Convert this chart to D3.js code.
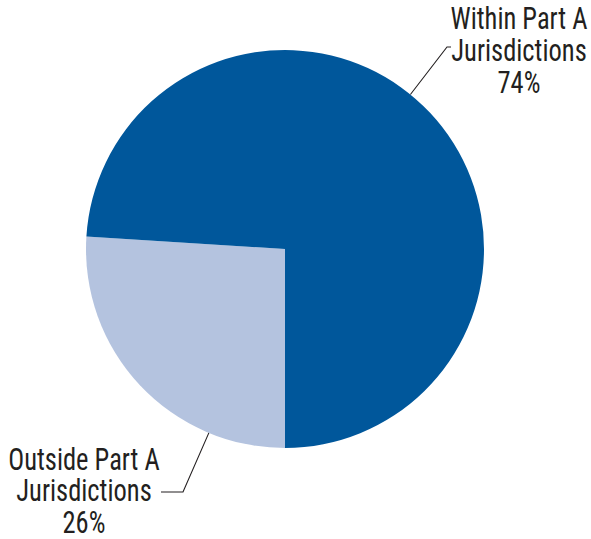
<!DOCTYPE html>
<html>
<head>
<meta charset="utf-8">
<script src="https://cdn.jsdelivr.net/npm/d3@7/dist/d3.min.js"></script>
<style>
  html, body { margin: 0; padding: 0; background: #fff; }
  svg text { font-family: "Roboto Condensed", "Liberation Sans Narrow", "Liberation Sans", sans-serif; fill: #231f20; }
</style>
</head>
<body>
<svg id="chart" width="591" height="539"></svg>
<script>
// Share of total by jurisdiction group
const categories = ["Outside Part A Jurisdictions", "Within Part A Jurisdictions"];
const labelLines = [["Outside Part A", "Jurisdictions"], ["Within Part A", "Jurisdictions"]];
const values = [26, 74];
const colors = ["#b4c3df", "#00579b"];

const svg = d3.select("#chart");
const cx = 285, cy = 249, radius = 199;

const pie = d3.pie().sort(null).value(d => d)
  .startAngle(Math.PI).endAngle(3 * Math.PI);
const arcs = pie(values);
const arc = d3.arc().innerRadius(0).outerRadius(radius);

const g = svg.append("g").attr("transform", `translate(${cx},${cy})`);
g.selectAll("path.slice")
  .data(arcs)
  .join("path")
  .attr("class", "slice")
  .attr("d", arc)
  .attr("fill", (d, i) => colors[i]);

// Label placements and leader lines (angle along the rim, elbow and text anchor)
const labelSpec = [
  { angle: Math.PI * 1.125, elbow: [-102, 243], end: [-124, 243], tx: 84, ty: 470, lh: 31.5 },
  { angle: Math.PI * 0.217, elbow: [162, -202], end: [166, -202], tx: 519, ty: 29, lh: 32 }
];
const stretchY = 1.15;  // tall condensed lettering

labelSpec.forEach((s, i) => {
  const rimX = Math.sin(s.angle) * radius;
  const rimY = -Math.cos(s.angle) * radius;
  g.append("polyline")
    .attr("points", [[rimX, rimY], s.elbow, s.end].map(p => p.join(",")).join(" "))
    .attr("fill", "none")
    .attr("stroke", "#231f20")
    .attr("stroke-width", 1.1);

  const t = svg.append("text")
    .attr("transform", `translate(${s.tx},${s.ty}) scale(1,${stretchY})`)
    .attr("text-anchor", "middle")
    .attr("font-size", 26.5);
  const lines = labelLines[i].concat([values[i] + "%"]);
  lines.forEach((ln, k) => {
    t.append("tspan").attr("x", 0).attr("dy", k === 0 ? 0 : s.lh / stretchY).text(ln);
  });
});
</script>
</body>
</html>
